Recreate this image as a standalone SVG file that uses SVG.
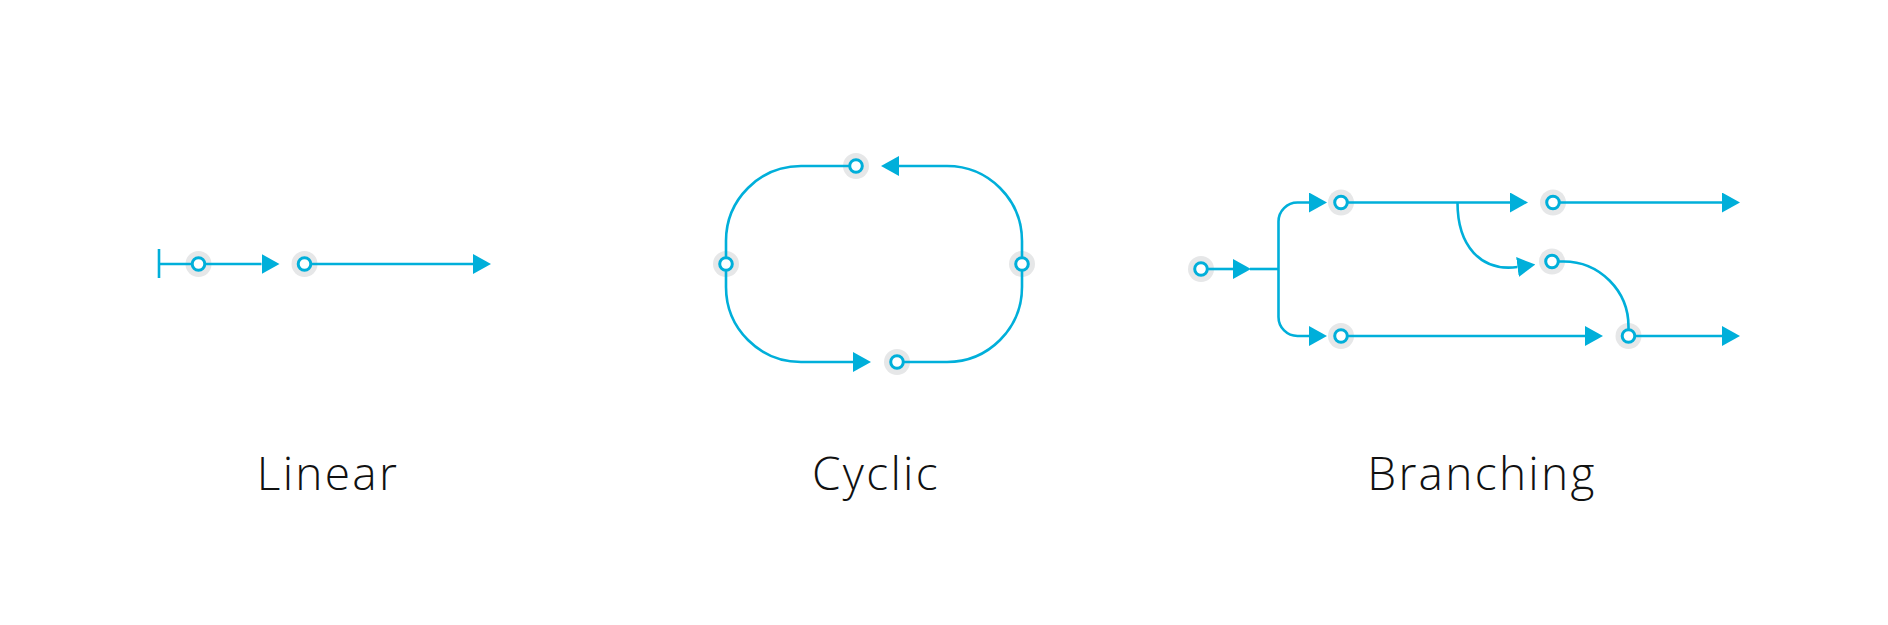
<svg xmlns="http://www.w3.org/2000/svg" width="1888" height="625" viewBox="0 0 1888 625">
<style>
.ln{fill:none;stroke:#00AFDA;stroke-width:2.6}
.halo{fill:#E6E7E8}
.nd{fill:#fff;stroke:#00AFDA;stroke-width:3}
.lbl{font-family:"Open Sans","Liberation Sans",sans-serif;font-weight:300;font-size:46px;letter-spacing:2.3px;fill:#111;text-anchor:middle}
</style>
<defs>
<marker id="arr" viewBox="0 0 18 20" refX="0" refY="10" markerWidth="18" markerHeight="20" markerUnits="userSpaceOnUse" orient="auto">
<path d="M0,0 L18,10 L0,20 z" fill="#00AFDA"/>
</marker>
</defs>
<rect width="1888" height="625" fill="#fff"/>
<g id="halos">
<circle class="halo" cx="198.5" cy="264" r="13"/>
<circle class="halo" cx="304.5" cy="264" r="13"/>
<circle class="halo" cx="856" cy="166" r="13"/>
<circle class="halo" cx="726" cy="264" r="13"/>
<circle class="halo" cx="1022" cy="264" r="13"/>
<circle class="halo" cx="897" cy="362" r="13"/>
<circle class="halo" cx="1201" cy="269" r="13"/>
<circle class="halo" cx="1341" cy="202.5" r="13"/>
<circle class="halo" cx="1341" cy="336" r="13"/>
<circle class="halo" cx="1553" cy="202.5" r="13"/>
<circle class="halo" cx="1552" cy="261.5" r="13"/>
<circle class="halo" cx="1628.5" cy="336" r="13"/>
</g>
<g id="connectors">
<path class="ln" d="M159,249 V278"/>
<path class="ln" d="M159,264 H261.5" marker-end="url(#arr)"/>
<path class="ln" d="M304.5,264 H473" marker-end="url(#arr)"/>
<path class="ln" d="M897,362 H947 A75,75 0 0 0 1022,287 V241 A75,75 0 0 0 947,166 H899" marker-end="url(#arr)"/>
<path class="ln" d="M856,166 H801 A75,75 0 0 0 726,241 V287 A75,75 0 0 0 801,362 H853" marker-end="url(#arr)"/>
<path class="ln" d="M1201,269 H1233" marker-end="url(#arr)"/>
<path class="ln" d="M1250,269 H1278.5"/>
<path class="ln" d="M1278.5,269 V221.5 A19,19 0 0 1 1297.5,202.5 H1309" marker-end="url(#arr)"/>
<path class="ln" d="M1278.5,269 V317 A19,19 0 0 0 1297.5,336 H1309" marker-end="url(#arr)"/>
<path class="ln" d="M1341,202.5 H1510" marker-end="url(#arr)"/>
<path class="ln" d="M1457.5,202.5 C1457.5,245 1480,272 1517.5,267" marker-end="url(#arr)"/>
<path class="ln" d="M1553,202.5 H1722" marker-end="url(#arr)"/>
<path class="ln" d="M1552,261.5 H1563 A65,65 0 0 1 1628.5,327 V336"/>
<path class="ln" d="M1341,336 H1585" marker-end="url(#arr)"/>
<path class="ln" d="M1628.5,336 H1722" marker-end="url(#arr)"/>
</g>
<g id="linear-n1"><circle class="nd" cx="198.5" cy="264" r="6.3"/></g>
<g id="linear-n2"><circle class="nd" cx="304.5" cy="264" r="6.3"/></g>
<g id="cyclic-top"><circle class="nd" cx="856" cy="166" r="6.3"/></g>
<g id="cyclic-left"><circle class="nd" cx="726" cy="264" r="6.3"/></g>
<g id="cyclic-right"><circle class="nd" cx="1022" cy="264" r="6.3"/></g>
<g id="cyclic-bottom"><circle class="nd" cx="897" cy="362" r="6.3"/></g>
<g id="branch-start"><circle class="nd" cx="1201" cy="269" r="6.3"/></g>
<g id="branch-top1"><circle class="nd" cx="1341" cy="202.5" r="6.3"/></g>
<g id="branch-bottom1"><circle class="nd" cx="1341" cy="336" r="6.3"/></g>
<g id="branch-top2"><circle class="nd" cx="1553" cy="202.5" r="6.3"/></g>
<g id="branch-mid"><circle class="nd" cx="1552" cy="261.5" r="6.3"/></g>
<g id="branch-bottom2"><circle class="nd" cx="1628.5" cy="336" r="6.3"/></g>
<g id="labels">
<text class="lbl" x="328" y="490">Linear</text>
<text class="lbl" x="876" y="490">Cyclic</text>
<text class="lbl" x="1482" y="490">Branching</text>
</g>
</svg>
